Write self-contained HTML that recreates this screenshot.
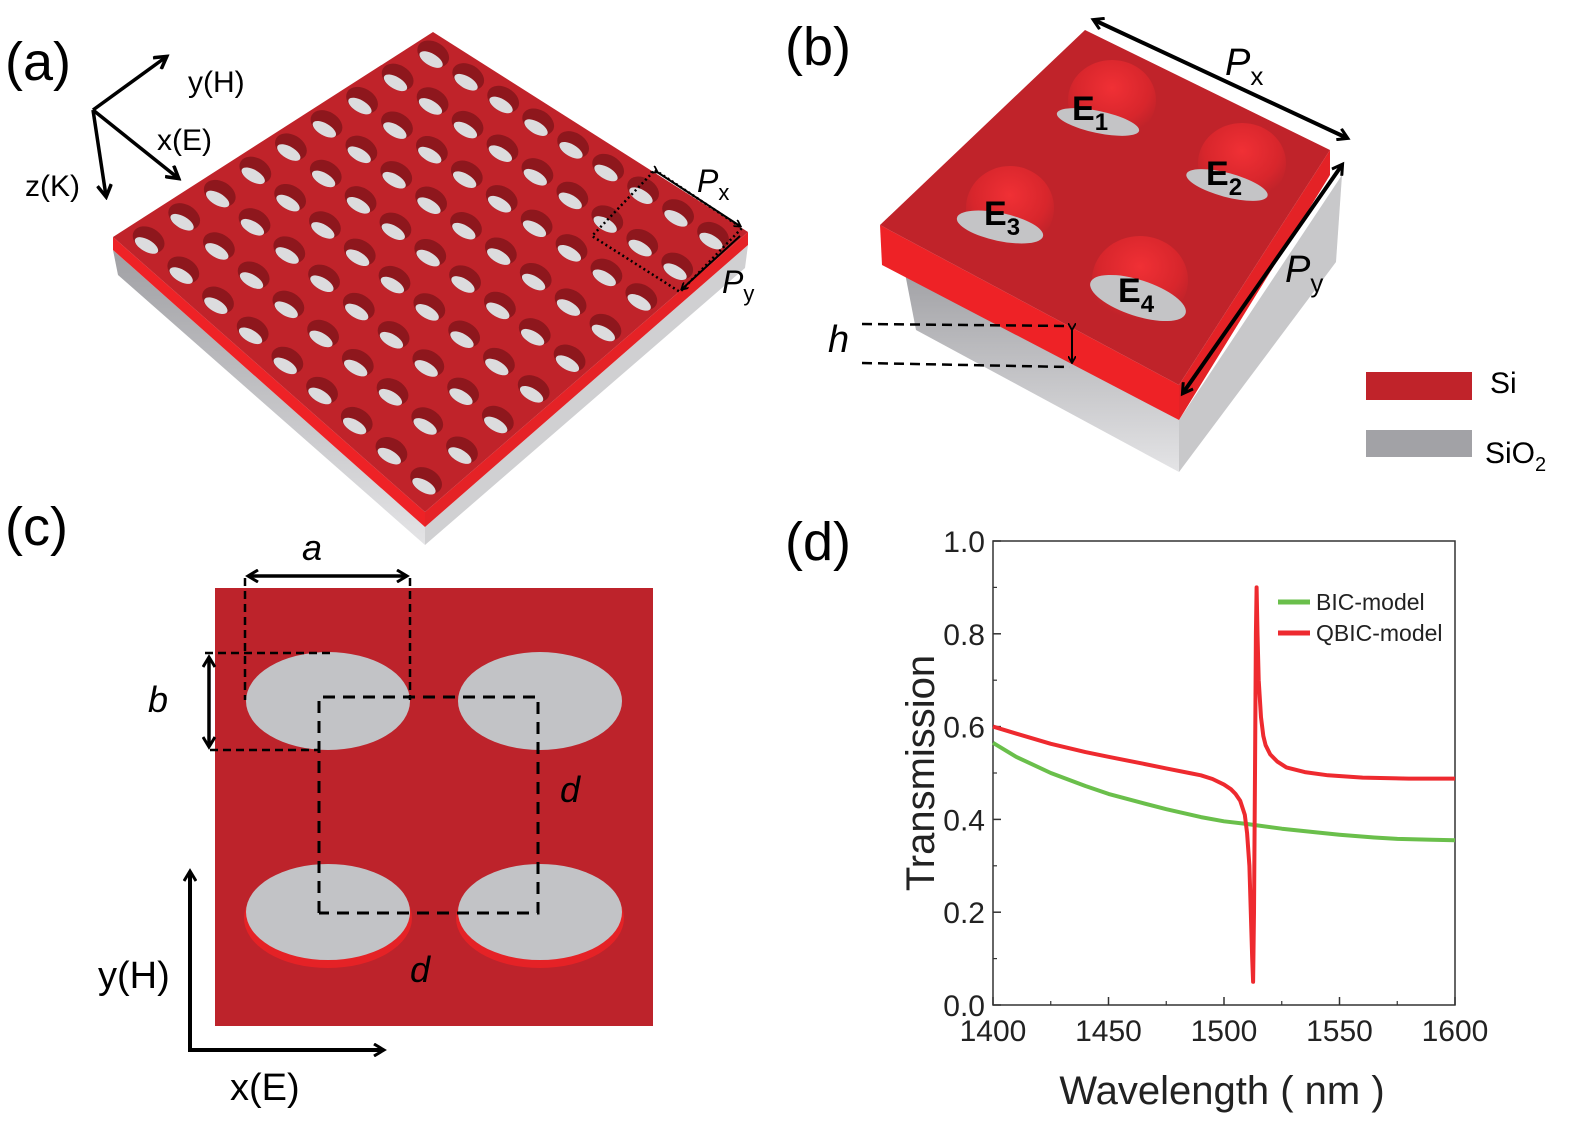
<!DOCTYPE html>
<html><head><meta charset="utf-8"><style>
html,body{margin:0;padding:0;background:#fff;}
svg{display:block;font-family:"Liberation Sans",sans-serif;}
</style></head><body>
<svg id="fig" width="1588" height="1140" viewBox="0 0 1588 1140">
<defs>
<marker id="ah" markerWidth="8" markerHeight="8" refX="6" refY="4" orient="auto" markerUnits="userSpaceOnUse"><path d="M0,0 L7,4 L0,8" fill="none" stroke="#000" stroke-width="1.8"/></marker>
<marker id="ahb" markerWidth="16" markerHeight="16" refX="12" refY="8" orient="auto" markerUnits="userSpaceOnUse"><path d="M1,1 L13,8 L1,15" fill="none" stroke="#000" stroke-width="3.5"/></marker>
<marker id="ahs" markerWidth="14" markerHeight="14" refX="10" refY="7" orient="auto-start-reverse" markerUnits="userSpaceOnUse"><path d="M1,1 L11,7 L1,13" fill="none" stroke="#000" stroke-width="3"/></marker>
<radialGradient id="pitb" cx="0.5" cy="0.35" r="0.6"><stop offset="0" stop-color="#f03035"/><stop offset="0.7" stop-color="#d8262c"/><stop offset="1" stop-color="#c0232a"/></radialGradient>
<linearGradient id="gray" x1="0" y1="0" x2="0" y2="1"><stop offset="0" stop-color="#a0a0a4"/><stop offset="1" stop-color="#e4e4e6"/></linearGradient>
</defs>

<text x="5" y="80" font-size="54">(a)</text>
<text x="785" y="65" font-size="54">(b)</text>
<text x="5" y="545" font-size="54">(c)</text>
<text x="785" y="560" font-size="54">(d)</text>

<g>
<polygon points="113,250 425,527 425,545 118,275" fill="url(#gray)"/>
<polygon points="425,527 748,245 745,268 425,545" fill="#d0d0d2"/>
<polygon points="113,237 425,512 425,527 113,250" fill="#ee2226"/>
<polygon points="425,512 748,232 748,245 425,527" fill="#e52226"/>
<polygon points="113,237 433,32 748,232 425,512" fill="#c0232a"/>
<g id="holesA"></g>
<polygon points="655,170 742,228 680,292 592,236" fill="none" stroke="#000" stroke-width="2.5" stroke-dasharray="2,3"/>
<line x1="657" y1="172" x2="740" y2="226" stroke="#000" stroke-width="2" marker-end="url(#ah)" marker-start="url(#ah)"/>
<line x1="740" y1="236" x2="682" y2="289" stroke="#000" stroke-width="2" marker-end="url(#ah)"/>
<text x="697" y="192" font-size="32" font-style="italic">P<tspan font-size="22" font-style="normal" dy="8">x</tspan></text>
<text x="722" y="293" font-size="32" font-style="italic">P<tspan font-size="22" font-style="normal" dy="8">y</tspan></text>
<line x1="93" y1="110" x2="166" y2="57" stroke="#000" stroke-width="3.5" marker-end="url(#ahb)"/>
<line x1="93" y1="110" x2="178" y2="178" stroke="#000" stroke-width="3.5" marker-end="url(#ahb)"/>
<line x1="93" y1="110" x2="106" y2="196" stroke="#000" stroke-width="3.5" marker-end="url(#ahb)"/>
<text x="188" y="92" font-size="30">y(H)</text>
<text x="157" y="150" font-size="30">x(E)</text>
<text x="25" y="196" font-size="30">z(K)</text>
</g>

<g>
<polygon points="904,268 1179,420 1179,472 916,330" fill="url(#gray)"/>
<polygon points="1179,420 1342,175 1336,262 1179,472" fill="#c8c8ca"/>
<polygon points="880,225 1179,385 1179,420 882,265" fill="#ee2226"/>
<polygon points="1179,385 1330,150 1330,175 1179,420" fill="#e42226"/>
<polygon points="880,225 1085,30 1330,150 1179,385" fill="#c0232a"/>
<g><ellipse cx="1112" cy="100" rx="44" ry="40" fill="url(#pitb)"/><ellipse cx="1098" cy="122" rx="42" ry="11" transform="rotate(12 1098 122)" fill="#c4c4c6"/></g>
<g><ellipse cx="1242" cy="163" rx="44" ry="40" fill="url(#pitb)"/><ellipse cx="1227" cy="185" rx="42" ry="12" transform="rotate(15 1227 185)" fill="#c4c4c6"/></g>
<g><ellipse cx="1010" cy="208" rx="44" ry="42" fill="url(#pitb)"/><ellipse cx="1000" cy="227" rx="44" ry="14" transform="rotate(12 1000 227)" fill="#c4c4c6"/></g>
<g><ellipse cx="1140" cy="280" rx="48" ry="44" fill="url(#pitb)"/><ellipse cx="1138" cy="298" rx="50" ry="18" transform="rotate(18 1138 298)" fill="#c4c4c6"/></g>
<g font-size="34" font-weight="bold">
<text x="1072" y="120">E<tspan font-size="24" dy="10">1</tspan></text>
<text x="1206" y="185">E<tspan font-size="24" dy="10">2</tspan></text>
<text x="984" y="225">E<tspan font-size="24" dy="10">3</tspan></text>
<text x="1118" y="302">E<tspan font-size="24" dy="10">4</tspan></text>
</g>
<line x1="1094" y1="20" x2="1347" y2="138" stroke="#000" stroke-width="4" marker-end="url(#ahs)" marker-start="url(#ahs)"/>
<line x1="1342" y1="165" x2="1183" y2="393" stroke="#000" stroke-width="4" marker-end="url(#ahs)" marker-start="url(#ahs)"/>
<text x="1225" y="75" font-size="38" font-style="italic">P<tspan font-size="26" font-style="normal" dy="10">x</tspan></text>
<text x="1285" y="282" font-size="38" font-style="italic">P<tspan font-size="26" font-style="normal" dy="10">y</tspan></text>
<line x1="862" y1="324" x2="1070" y2="326" stroke="#000" stroke-width="2.5" stroke-dasharray="10,6"/>
<line x1="862" y1="363" x2="1070" y2="367" stroke="#000" stroke-width="2.5" stroke-dasharray="10,6"/>
<line x1="1072" y1="329" x2="1072" y2="362" stroke="#000" stroke-width="2" marker-end="url(#ah)" marker-start="url(#ah)"/>
<text x="828" y="352" font-size="38" font-style="italic">h</text>
<rect x="1366" y="372" width="106" height="28" fill="#c0232a"/>
<rect x="1366" y="430" width="106" height="27" fill="#a2a2a6"/>
<text x="1490" y="393" font-size="30">Si</text>
<text x="1485" y="463" font-size="30">SiO<tspan font-size="20" dy="8">2</tspan></text>
</g>

<g>
<rect x="215" y="588" width="438" height="438" fill="#bd232b"/>
<g fill="#e52226"><ellipse cx="328" cy="918" rx="84" ry="50"/><ellipse cx="540" cy="918" rx="84" ry="50"/></g>
<g fill="#c2c3c6">
<ellipse cx="328" cy="701" rx="82" ry="49"/><ellipse cx="540" cy="701" rx="82" ry="49"/>
<ellipse cx="328" cy="912" rx="82" ry="48"/><ellipse cx="540" cy="912" rx="82" ry="48"/>
</g>
<g stroke="#000" stroke-width="3" fill="none" stroke-dasharray="12,8">
<polyline points="319,913 319,697 538,697 538,913 319,913"/>
</g>
<g stroke="#000" stroke-width="2.5" fill="none" stroke-dasharray="8,5">
<line x1="245" y1="578" x2="245" y2="700"/><line x1="410" y1="578" x2="410" y2="700"/>
<line x1="205" y1="653" x2="330" y2="653"/><line x1="210" y1="750" x2="320" y2="750"/>
</g>
<line x1="249" y1="576" x2="406" y2="576" stroke="#000" stroke-width="3.5" marker-end="url(#ahs)" marker-start="url(#ahs)"/>
<line x1="209" y1="658" x2="209" y2="746" stroke="#000" stroke-width="3.5" marker-end="url(#ahs)" marker-start="url(#ahs)"/>
<text x="302" y="560" font-size="36" font-style="italic">a</text>
<text x="148" y="712" font-size="36" font-style="italic">b</text>
<text x="560" y="802" font-size="36" font-style="italic">d</text>
<text x="410" y="982" font-size="36" font-style="italic">d</text>
<line x1="190" y1="1050" x2="190" y2="872" stroke="#000" stroke-width="4" marker-end="url(#ahs)"/>
<line x1="188" y1="1050" x2="383" y2="1050" stroke="#000" stroke-width="4" marker-end="url(#ahs)"/>
<text x="98" y="988" font-size="38">y(H)</text>
<text x="230" y="1100" font-size="38">x(E)</text>
</g>

<g id="chart"></g>
</svg>
<script>
(function(){
  var g=document.getElementById('holesA');
  var L=[113,237],T=[433,32],R=[748,232],B=[425,512],n=9;
  for(var i=0;i<n;i++)for(var j=0;j<n;j++){
    var u=(i+0.5)/n,v=(j+0.5)/n;
    var x=(1-u)*(1-v)*L[0]+u*(1-v)*T[0]+u*v*R[0]+(1-u)*v*B[0];
    var y=(1-u)*(1-v)*L[1]+u*(1-v)*T[1]+u*v*R[1]+(1-u)*v*B[1];
    var p=document.createElementNS('http://www.w3.org/2000/svg','ellipse');
    p.setAttribute('cx',x);p.setAttribute('cy',y-1);p.setAttribute('rx',17);p.setAttribute('ry',12);
    p.setAttribute('transform','rotate(30 '+x+' '+y+')');p.setAttribute('fill','#8e171d');
    g.appendChild(p);
    var q=document.createElementNS('http://www.w3.org/2000/svg','ellipse');
    q.setAttribute('cx',x+1);q.setAttribute('cy',y+5);q.setAttribute('rx',13);q.setAttribute('ry',6);
    q.setAttribute('transform','rotate(30 '+x+' '+y+')');q.setAttribute('fill','#dcdcde');
    
    
    g.appendChild(q);
  }
})();

var xTicks=[1400,1450,1500,1550,1600];
var yTicks=[0.0,0.2,0.4,0.6,0.8,1.0];
var yTickLabels=["0.0","0.2","0.4","0.6","0.8","1.0"];
var bicWl=[1400,1410,1425,1440,1450,1465,1475,1490,1500,1510,1525,1540,1550,1565,1575,1590,1600];
var bicT=[0.565,0.535,0.5,0.472,0.455,0.435,0.422,0.405,0.396,0.39,0.38,0.372,0.367,0.361,0.358,0.356,0.355];
var qbicWl=[1400,1410,1425,1440,1450,1465,1475,1485,1490,1495,1500,1503,1505,1507,1509,1510,1511,1511.6,1512.2,1512.6,1513,1513.4,1513.8,1514.1,1514.5,1515,1516,1517,1518,1520,1523,1527,1535,1545,1560,1580,1600];
var qbicT=[0.6,0.585,0.563,0.545,0.535,0.52,0.51,0.5,0.495,0.487,0.475,0.465,0.455,0.44,0.41,0.37,0.3,0.2,0.1,0.05,0.2,0.5,0.8,0.9,0.8,0.7,0.62,0.58,0.56,0.54,0.525,0.512,0.502,0.495,0.49,0.488,0.488];
var seriesNames=["BIC-model","QBIC-model"];
var seriesColors=["#6abf4b","#ee2a2f"];

(function(){
  var NS='http://www.w3.org/2000/svg',c=document.getElementById('chart');
  var x0=993,x1=1455,y0=1005,y1=541;
  function sx(v){return x0+(v-1400)/(1600-1400)*(x1-x0);}
  function sy(v){return y0-(v-0)/(1-0)*(y0-y1);}
  function mk(t,a){var e=document.createElementNS(NS,t);for(var k in a)e.setAttribute(k,a[k]);c.appendChild(e);return e;}
  var fr=mk('rect',{x:x0,y:y1,width:x1-x0,height:y0-y1,fill:'none',stroke:'#333','stroke-width':1.5});
  
  
  xTicks.forEach(function(v){
    mk('line',{x1:sx(v),y1:y0,x2:sx(v),y2:y0-8,stroke:'#333','stroke-width':1.5});
    var t=mk('text',{x:sx(v),y:y0+36,'font-size':30,'text-anchor':'middle',fill:'#222'});t.textContent=v;
    
    
  });
  for(var v=1425;v<1600;v+=50)mk('line',{x1:sx(v),y1:y0,x2:sx(v),y2:y0-4,stroke:'#333','stroke-width':1.2});
  yTicks.forEach(function(v,i){
    mk('line',{x1:x0,y1:sy(v),x2:x0+8,y2:sy(v),stroke:'#333','stroke-width':1.5});
    var t=mk('text',{x:x0-8,y:sy(v)+11,'font-size':30,'text-anchor':'end',fill:'#222'});t.textContent=yTickLabels[i];
    
    
  });
  for(var v=0.1;v<1;v+=0.2)mk('line',{x1:x0,y1:sy(v),x2:x0+4,y2:sy(v),stroke:'#333','stroke-width':1.2});
  function line(xs,ys,col,name){
    var d=xs.map(function(x,i){return (i?'L':'M')+sx(x).toFixed(1)+','+sy(ys[i]).toFixed(1);}).join(' ');
    var p=mk('path',{d:d,fill:'none',stroke:col,'stroke-width':4,'stroke-linejoin':'round'});
    
    
  }
  line(bicWl,bicT,seriesColors[0],'bic-model-line');
  line(qbicWl,qbicT,seriesColors[1],'qbic-model-line');
  [0,1].forEach(function(i){
    var yy=602+i*31;
    var l=mk('line',{x1:1278,y1:yy,x2:1310,y2:yy,stroke:seriesColors[i],'stroke-width':5});
    
    
    var t=mk('text',{x:1316,y:yy+8,'font-size':23,fill:'#222'});t.textContent=seriesNames[i];
    
    
  });
  var yt=mk('text',{x:0,y:0,'font-size':40,'text-anchor':'middle',fill:'#222',transform:'translate(934,773) rotate(-90)'});
  yt.textContent='Transmission';
  
  
  var xt=mk('text',{x:1222,y:1104,'font-size':40,'text-anchor':'middle',fill:'#222'});
  xt.textContent='Wavelength ( nm )';
  
  
})();
</script>
</body></html>
